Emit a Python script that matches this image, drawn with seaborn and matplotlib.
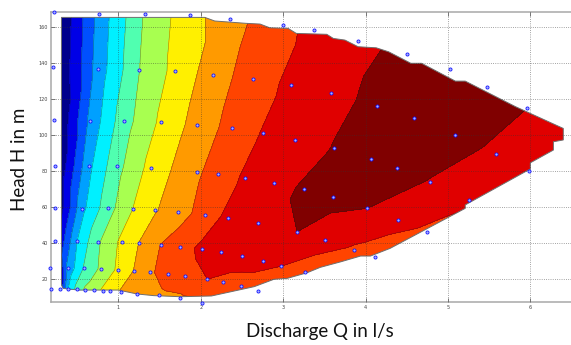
"""Pump map: efficiency bands over discharge Q and head H, with measured points."""
import numpy as np
import matplotlib; matplotlib.use('Agg')
import matplotlib.pyplot as plt
import matplotlib.tri as mtri
from matplotlib.patches import Polygon
import seaborn as sns

# measured operating points (Q in l/s, H in m) and their band value (0..12 scale)
Q = [0.22, 0.77, 1.32, 1.87, 2.35, 3.00, 3.37, 3.91, 4.50, 5.03, 5.47, 5.96,
     0.21, 0.75, 1.25, 1.69, 2.15, 2.64, 3.10, 3.58, 4.14,
     0.22, 0.66, 1.07, 1.52, 1.96, 2.38, 2.76, 3.15, 3.62, 4.59, 5.09, 5.58,
     0.23, 0.64, 0.98, 1.40, 1.96, 2.21, 2.54, 2.89, 3.25, 3.61, 4.07, 4.38, 4.78, 5.26, 5.98,
     0.23, 0.56, 0.88, 1.18, 1.45, 1.73, 2.05, 2.33, 2.70, 3.17, 4.02, 4.39, 4.74,
     0.23, 0.50, 0.75, 1.04, 1.25, 1.52, 1.75, 2.01, 2.25, 2.50, 2.75, 2.98, 3.51, 3.86, 4.12, 3.26,
     0.17, 0.39, 0.58, 0.79, 1.00, 1.19, 1.38, 1.60, 1.81, 2.08, 2.27, 2.49, 2.69,
     0.18, 0.29, 0.39, 0.50, 0.60, 0.70, 0.82, 0.90, 1.03, 1.23, 1.49, 1.75, 2.01]
H = [168.2, 167.0, 167.0, 166.3, 164.5, 161.0, 158.2, 152.0, 144.7, 136.3, 126.7, 114.7,
     137.6, 136.3, 136.1, 135.2, 133.3, 131.0, 127.6, 123.0, 116.1,
     108.3, 107.8, 107.6, 106.9, 105.6, 103.5, 100.8, 97.0, 92.4, 109.5, 99.8, 89.3,
     82.6, 82.4, 82.4, 81.5, 79.5, 78.3, 76.1, 73.3, 69.6, 65.6, 86.5, 81.7, 73.9, 63.9, 79.8,
     59.3, 58.9, 59.1, 58.5, 58.0, 57.1, 55.6, 53.7, 50.9, 46.1, 59.1, 52.6, 46.1,
     40.9, 40.9, 40.6, 40.4, 39.8, 38.9, 37.8, 36.5, 34.8, 32.6, 30.0, 27.2, 41.3, 36.1, 31.9, 23.7,
     25.9, 25.9, 25.8, 25.4, 24.8, 24.4, 23.7, 22.6, 21.7, 19.7, 18.0, 16.0, 13.3,
     14.4, 14.4, 14.1, 14.1, 13.7, 13.7, 13.3, 13.1, 12.8, 11.5, 10.8, 9.3, 6.5]
V = [-0.48, 3.4, 6.1, 7.64, 8.56, 9.8, 10.2, 10.6, 11.4, 11.4, 11.3, 11.0,
     -0.43, 3.44, 5.97, 7.3, 8.5, 9.53, 10.22, 10.7, 11.25,
     -0.45, 3.3, 5.6, 7.2, 8.4, 9.36, 10.08, 10.5, 11.05, 11.5, 11.4, 10.8,
     -0.28, 3.75, 5.67, 7.35, 8.86, 9.44, 10.15, 10.6, 11.15, 11.3, 11.6, 11.5, 10.95, 10.2, 10.4,
     -0.2, 3.73, 5.63, 7.03, 7.92, 8.52, 9.47, 10.25, 10.65, 11.0, 11.0, 10.45, 9.8,
     0.62, 4.0, 5.85, 7.23, 8.02, 9.03, 9.6, 10.2, 10.7, 10.7, 10.55, 10.02, 10.5, 9.85, 9.3, 9.4,
     -1.47, 3.3, 5.05, 6.2, 7.2, 8.03, 8.85, 9.4, 9.65, 10.0, 9.6, 9.4, 9.0,
     -2.0, 1.0, 4.0, 5.4, 6.2, 6.6, 7.2, 7.6, 8.1, 8.4, 8.8, 8.85, 8.8]

# grid node at the right tip of the map (outside the visible range of points)
TIP_Q = [6.55]
TIP_H = [100.0]
TIP_V = [10.6]

# outline of the gridded region
DOM_Q = [0.31, 2.05, 2.17, 2.55, 2.72, 2.84, 3.06, 3.16, 3.53, 3.61, 3.75, 3.91, 4.13, 4.28,
         4.55, 4.68, 5.09, 5.21, 5.82, 6.40, 6.40, 6.28, 6.28, 6.00, 6.00, 5.21, 5.21, 4.30,
         4.06, 3.94, 3.70, 3.45, 3.29, 3.05, 2.89, 2.65, 2.37, 2.13, 1.75, 1.43, 1.23, 1.00,
         0.52, 0.33, 0.31]
DOM_H = [165.2, 165.2, 163.2, 161.9, 161.5, 159.4, 159.1, 156.3, 155.8, 153.5, 152.6, 148.9,
         148.3, 146.1, 139.7, 139.7, 129.8, 129.8, 115.6, 103.5, 97.1, 96.1, 91.5, 84.4, 81.0,
         61.0, 59.1, 36.9, 32.6, 32.6, 29.4, 26.3, 23.3, 20.2, 19.7, 15.6, 12.8, 10.4, 10.0,
         10.6, 11.5, 13.7, 13.7, 14.6, 16.5]

COLORS = ['#00008c', '#0000e6', '#0050ff', '#00a0ff', '#00f0ff', '#50ffb0',
          '#a8ff50', '#fff000', '#ff9a00', '#ff4400', '#e00000', '#800000']
XTICKS = [1, 2, 3, 4, 5, 6]
YTICKS = [20, 40, 60, 80, 100, 120, 140, 160]

sns.set_theme(style='white')
plt.rcParams['font.family'] = ['DejaVu Sans']

fig = plt.figure(figsize=(5.71, 3.45), dpi=100)
ax = fig.add_axes([51/571, 1 - 302/345, 523/571, 290/345])

qa = np.array(Q + TIP_Q); ha = np.array(H + TIP_H); va = np.array(V + TIP_V)
t0 = mtri.Triangulation(qa * 25, ha)
tri = mtri.Triangulation(qa, ha, t0.triangles)

dom = Polygon(np.column_stack([DOM_Q, DOM_H]), closed=True, facecolor='none',
              edgecolor='#6e6e6e', lw=0.7, zorder=2)
ax.add_patch(dom)
cs = ax.tricontourf(tri, va, levels=np.arange(0, 13), colors=COLORS, zorder=1)
cl = ax.tricontour(tri, va, levels=np.arange(1, 12), colors='k', linewidths=0.4,
                   alpha=0.5, zorder=1.5)
cs.set_clip_path(dom); cl.set_clip_path(dom)

sns.scatterplot(x=Q, y=H, ax=ax, marker='o', s=5, color='#a8b2ff', edgecolor='#1414ff',
                linewidth=0.6, zorder=4, clip_on=False, legend=False)

ax.set_xlim(0.183, 6.53); ax.set_ylim(7.06, 168.2)
ax.set_xticks(XTICKS); ax.set_yticks(YTICKS)
ax.set_axisbelow(False)
ax.grid(True, linestyle=':', color='#333333', linewidth=0.6, alpha=0.6)
for s in ax.spines.values():
    s.set_color('#a8a8a8'); s.set_linewidth(1.1)
ax.tick_params(direction='in', length=3, width=0.6, color='#666666', labelcolor='#444444',
               labelsize=3.5, top=True, right=False, pad=2, bottom=True, left=True)

fig.text(320/571, 1 - 331/345, 'Discharge Q in l/s', ha='center', va='center',
         fontsize=13.5, family=['Lato', 'DejaVu Sans'], color='#111111')
fig.text(20/571, 1 - 159/345, 'Head H in m', ha='center', va='center', rotation=90,
         fontsize=13.5, family=['Lato', 'DejaVu Sans'], color='#111111')

plt.savefig('out.png', dpi=100)
plt.close()
